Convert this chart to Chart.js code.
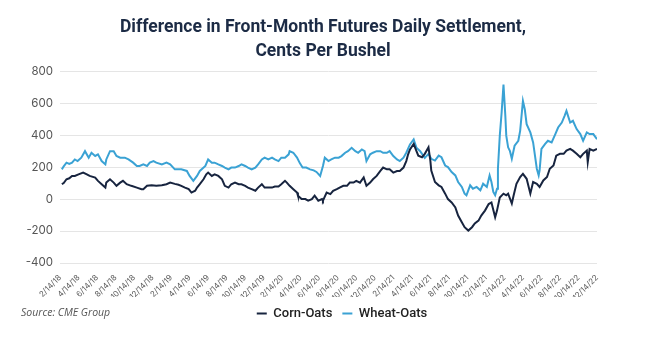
<!DOCTYPE html>
<html>
<head>
<meta charset="utf-8">
<title>Front-Month Futures Spreads</title>
<script src="https://cdn.jsdelivr.net/npm/chart.js@4.4.0/dist/chart.umd.min.js"></script>
<style>
    html, body { margin: 0; padding: 0; background: #fff; }
    #wrap { width: 646px; height: 338px; position: relative; }
</style>
</head>
<body>
<div id="wrap"><canvas id="spreadChart"></canvas></div>
<script>
// Tick labels every two months, starting 2/14/18 (x = months since then)
var tickLabels = [
    '2/14/18', '4/14/18', '6/14/18', '8/14/18', '10/14/18', '12/14/18',
    '2/14/19', '4/14/19', '6/14/19', '8/14/19', '10/14/19', '12/14/19',
    '2/14/20', '4/14/20', '6/14/20', '8/14/20', '10/14/20', '12/14/20',
    '2/14/21', '4/14/21', '6/14/21', '8/14/21', '10/14/21', '12/14/21',
    '2/14/22', '4/14/22', '6/14/22', '8/14/22', '10/14/22', '12/14/22'
];

var yTicks = [-400, -200, 0, 200, 400, 600, 800];

// Corn minus oats, cents per bushel
var cornMonths = [
    0.2, 0.4, 0.7, 1.0, 1.3, 1.6, 2.0, 2.5, 2.9, 3.2, 3.8, 4.1, 4.5, 4.9, 5.0, 5.4, 5.8, 6.1, 6.5, 6.8,
    7.2, 7.7, 8.3, 8.8, 9.0, 9.4, 9.9, 10.4, 11.0, 11.5, 11.9, 12.4, 12.8, 13.1, 13.5, 13.9, 14.2, 14.6, 14.8, 15.1,
    15.5, 15.8, 16.0, 16.4, 16.7, 17.1, 17.5, 17.8, 18.2, 18.5, 18.9, 19.3, 19.6, 20.0, 20.3, 20.7, 21.1, 21.4, 21.8, 22.1,
    22.5, 22.9, 23.2, 23.6, 23.9, 24.3, 24.5, 24.8, 25.2, 25.6, 25.7, 26.1, 26.5, 26.8, 27.2, 27.5, 27.9, 28.3, 28.4, 28.8,
    29.2, 29.5, 29.9, 30.2, 30.6, 31.0, 31.3, 31.7, 32.0, 32.4, 32.8, 33.1, 33.5, 33.8, 34.2, 34.6, 34.9, 35.3, 35.6, 36.0,
    36.4, 36.7, 37.1, 37.4, 37.6, 37.8, 38.2, 38.5, 38.7, 39.1, 39.4, 39.8, 40.0, 40.1, 40.5, 40.9, 41.2, 41.6, 41.9, 42.3,
    42.7, 43.0, 43.4, 43.7, 44.1, 44.5, 44.8, 45.2, 45.5, 45.9, 46.3, 46.6, 47.0, 47.2, 47.5, 47.9, 48.2, 48.4, 48.8, 49.0,
    49.3, 49.7, 50.0, 50.4, 50.8, 51.1, 51.5, 51.8, 52.2, 52.6, 52.9, 53.3, 53.6, 54.0, 54.4, 54.7, 55.1, 55.4, 55.8, 56.2,
    56.5, 56.9, 57.0, 57.2, 57.6, 58.0
];
var cornOats = [
    93, 100, 124, 130, 145, 145, 155, 166, 155, 145, 135, 114, 93, 72, 103, 124, 103, 83, 103, 114,
    93, 83, 72, 62, 62, 83, 87, 83, 87, 93, 103, 95, 90, 83, 72, 62, 41, 52, 72, 93,
    124, 155, 166, 145, 155, 145, 124, 83, 72, 93, 103, 93, 93, 83, 72, 62, 52, 72, 93, 72,
    72, 72, 79, 79, 93, 114, 103, 83, 62, 41, 21, 0, 0, -10, 0, 21, -10, 0, -10, 41,
    31, 52, 62, 72, 83, 83, 103, 103, 114, 103, 135, 83, 103, 124, 145, 176, 197, 186, 186, 166,
    176, 176, 197, 238, 280, 311, 345, 300, 272, 262, 283, 324, 241, 179, 107, 86, 76, 34, 0, -21,
    -52, -103, -145, -176, -197, -176, -152, -135, -103, -72, -31, -21, -114, -72, 10, 34, 24, 34, -28, 24,
    96, 138, 158, 127, 34, 107, 96, 76, 117, 138, 190, 210, 272, 283, 283, 303, 314, 303, 283, 262,
    283, 303, 231, 314, 303, 314
];

// Wheat minus oats, cents per bushel
var wheatMonths = [
    0.2, 0.4, 0.7, 1.0, 1.3, 1.6, 1.9, 2.3, 2.7, 3.1, 3.4, 3.8, 4.1, 4.5, 4.9, 5.0, 5.4, 5.8, 6.1, 6.5,
    7.0, 7.4, 7.9, 8.3, 8.6, 9.0, 9.4, 9.7, 10.1, 10.4, 11.0, 11.5, 11.9, 12.4, 12.8, 13.1, 13.7, 14.0, 14.4, 14.8,
    15.1, 15.7, 16.0, 16.4, 16.7, 17.1, 17.5, 17.8, 18.2, 18.5, 18.9, 19.3, 19.6, 20.0, 20.3, 20.7, 21.1, 21.4, 21.8, 22.1,
    22.5, 22.9, 23.2, 23.6, 23.9, 24.3, 24.7, 24.8, 25.2, 25.6, 25.9, 26.2, 26.6, 27.0, 27.4, 27.7, 28.1, 28.4, 28.6, 29.0,
    29.3, 29.7, 30.1, 30.4, 30.8, 31.1, 31.5, 31.9, 32.2, 32.6, 32.9, 33.1, 33.5, 33.8, 34.2, 34.6, 34.9, 35.3, 35.6, 36.0,
    36.4, 36.7, 37.1, 37.4, 37.8, 38.2, 38.5, 38.9, 39.1, 39.4, 39.8, 40.1, 40.5, 40.9, 41.2, 41.6, 41.9, 42.3, 42.7, 43.0,
    43.4, 43.7, 43.9, 44.3, 44.6, 45.0, 45.4, 45.7, 46.1, 46.4, 46.6, 46.8, 47.0, 47.2, 47.3, 47.5, 47.7, 47.9, 48.1, 48.2,
    48.4, 48.6, 48.8, 49.1, 49.5, 49.7, 50.0, 50.2, 50.4, 50.8, 51.1, 51.5, 51.7, 51.8, 52.0, 52.4, 52.7, 53.1, 53.5, 53.8,
    54.2, 54.5, 54.7, 55.1, 55.4, 55.8, 56.2, 56.5, 56.9, 57.2, 57.6, 58.0
];
var wheatOats = [
    186, 205, 228, 220, 228, 248, 238, 259, 300, 259, 290, 270, 280, 238, 217, 248, 300, 300, 270, 259,
    259, 248, 228, 207, 207, 217, 207, 228, 238, 228, 217, 228, 217, 186, 186, 186, 176, 145, 114, 145,
    176, 207, 248, 228, 228, 217, 207, 197, 186, 197, 197, 207, 217, 207, 197, 186, 197, 217, 248, 259,
    248, 259, 248, 238, 259, 259, 280, 300, 290, 260, 225, 197, 197, 186, 180, 170, 145, 207, 259, 238,
    248, 259, 259, 269, 290, 300, 321, 300, 290, 311, 300, 238, 280, 290, 300, 300, 290, 290, 300, 269,
    248, 238, 259, 290, 342, 373, 321, 300, 283, 258, 283, 252, 241, 272, 262, 210, 200, 169, 148, 107,
    76, 34, 24, 86, 65, 76, 55, 96, 76, 148, 107, 45, 24, 65, 190, 397, 542, 717, 521, 397,
    324, 300, 252, 334, 365, 427, 614, 562, 469, 417, 355, 190, 148, 179, 314, 345, 365, 355, 407, 448,
    479, 521, 552, 479, 490, 438, 407, 365, 417, 407, 407, 375
];

var seriesNames = ['Corn-Oats', 'Wheat-Oats'];
var titleLines = ['Difference in Front-Month Futures Daily Settlement,', 'Cents Per Bushel'];
var sourceText = 'Source: CME Group';

(function () {
    'use strict';

    var NAVY = '#17243f';
    var SKY = '#3aa2d4';
    var HEAD_FONT = 'Roboto, sans-serif';

    function toPoints(xs, ys) {
        return xs.map(function (x, i) { return { x: x, y: ys[i] }; });
    }

    // Source line sits left of the legend, on the same row
    var sourceNote = {
        id: 'sourceNote',
        afterDraw: function (chart) {
            var lg = chart.legend;
            var ctx = chart.ctx;
            ctx.save();
            ctx.font = 'italic 10.5px "Open Sans", sans-serif';
            ctx.fillStyle = '#555';
            ctx.textBaseline = 'middle';
            ctx.textAlign = 'left';
            ctx.fillText(sourceText, 21, (lg.top + lg.bottom) / 2);
            ctx.restore();
        }
    };

    // Title is centred on the page rather than the padded box;
    // legend row sits a little right of that centre
    function shiftBox(box, dx) {
        if (!box) return;
        box.left += dx;
        box.right += dx;
    }
    var boxNudge = {
        id: 'boxNudge',
        afterLayout: function (chart) {
            shiftBox(chart.titleBlock, 19.5);
            shiftBox(chart.legend, 38.5);
        }
    };

    var ctx = document.getElementById('spreadChart');

    new Chart(ctx, {
        type: 'line',
        data: {
            datasets: [
                {
                    label: seriesNames[0],
                    data: toPoints(cornMonths, cornOats),
                    borderColor: NAVY,
                    backgroundColor: NAVY,
                    borderWidth: 2,
                    pointRadius: 0,
                    tension: 0
                },
                {
                    label: seriesNames[1],
                    data: toPoints(wheatMonths, wheatOats),
                    borderColor: SKY,
                    backgroundColor: SKY,
                    borderWidth: 2,
                    pointRadius: 0,
                    tension: 0
                }
            ]
        },
        options: {
            responsive: true,
            maintainAspectRatio: false,
            animation: false,
            layout: { padding: { left: 10, right: 49, top: 0, bottom: 8 } },
            plugins: {
                title: {
                    display: true,
                    text: titleLines,
                    color: '#1c2b45',
                    font: { family: HEAD_FONT, size: 17.5, weight: 'bold', lineHeight: 1.35 },
                    padding: { top: 16, bottom: 8 }
                },
                legend: {
                    position: 'bottom',
                    labels: {
                        color: '#222',
                        boxWidth: 10,
                        boxHeight: 2,
                        padding: 10,
                        font: { family: HEAD_FONT, size: 13, weight: '500' },
                        generateLabels: function (chart) {
                            var items = Chart.defaults.plugins.legend.labels.generateLabels(chart);
                            items.forEach(function (it) { it.lineWidth = 0; });
                            return items;
                        }
                    }
                },
                tooltip: { enabled: false }
            },
            scales: {
                x: {
                    type: 'linear',
                    min: 0,
                    max: (tickLabels.length - 1) * 2,
                    grid: { display: false },
                    border: { display: false },
                    afterFit: function (scale) { scale.height = 34; },
                    ticks: {
                        stepSize: 2,
                        autoSkip: false,
                        minRotation: 45,
                        maxRotation: 45,
                        padding: 2,
                        color: '#5a5a5a',
                        font: { family: 'Inter, sans-serif', size: 8 },
                        callback: function (value) {
                            return tickLabels[Math.round(value / 2)] || '';
                        }
                    }
                },
                y: {
                    min: yTicks[0],
                    max: yTicks[yTicks.length - 1],
                    grid: { color: '#e5e5e5', drawTicks: false },
                    border: { display: false },
                    afterFit: function (scale) { scale.width = 50; },
                    ticks: {
                        stepSize: 200,
                        padding: 7,
                        color: '#555',
                        font: { family: 'Inter, sans-serif', size: 11.5 }
                    }
                }
            }
        },
        plugins: [sourceNote, boxNudge]
    });
})();
</script>
</body>
</html>
